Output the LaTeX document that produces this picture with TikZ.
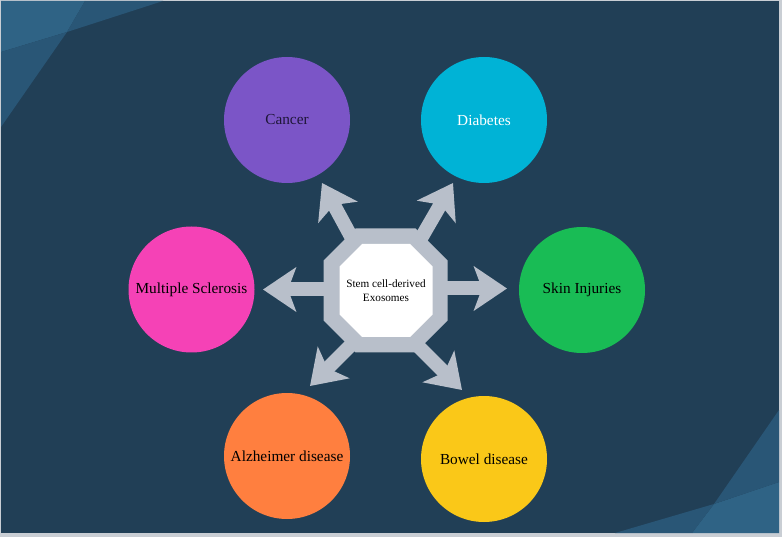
\documentclass[tikz,border=0pt]{standalone}
\usepackage{fontspec}
\setmainfont{Liberation Serif}
\usetikzlibrary{arrows.meta}
\definecolor{framegray}{HTML}{C9CED4}
\definecolor{bg}{HTML}{213F56}
\definecolor{bglight}{HTML}{2F6385}
\definecolor{bgmid}{HTML}{295676}
\definecolor{arrowgray}{HTML}{B8BFCA}
\definecolor{cpurple}{HTML}{7B55C7}
\definecolor{ccyan}{HTML}{00B3D6}
\definecolor{cgreen}{HTML}{19BC55}
\definecolor{cpink}{HTML}{F542B6}
\definecolor{corange}{HTML}{FF7F3F}
\definecolor{cyellow}{HTML}{FAC818}
\definecolor{darktext}{HTML}{1E1638}
\tikzset{
  disease/.style={circle, minimum size=126pt, inner sep=0pt, draw=none,
    font=\fontsize{15.3}{18}\selectfont, text=black},
  bigarrow/.style={draw=arrowgray, line width=14pt,
    -{Stealth[length=33pt, width=44pt, inset=8pt]}},
  corelabel/.style={align=center, font=\fontsize{11.2}{14.3}\selectfont, text=black}
}
\begin{document}
\begin{tikzpicture}[x=1pt,y=-1pt]
\useasboundingbox (0,0) rectangle (782,537);
% frame and background
\fill[framegray] (0,0) rectangle (782,537);
\fill[bg] (1,1) rectangle (779,533);
% top-left facets
\fill[bglight] (1,1) -- (85,1) -- (67,32) -- (1,52) -- cycle;
\fill[bgmid] (85,1) -- (163,1) -- (67,32) -- cycle;
\fill[bgmid] (1,52) -- (67,32) -- (1,127) -- cycle;
% bottom-right facets
\fill[bglight] (714,504) -- (779,482) -- (779,533) -- (692,533) -- cycle;
\fill[bgmid] (779,410) -- (714,504) -- (779,482) -- cycle;
\fill[bgmid] (615,533) -- (714,504) -- (692,533) -- cycle;

% disease circles
\node[disease, fill=cpurple, text=darktext] (cancer) at (287,120) {Cancer};
\node[disease, fill=ccyan, text=white] (diabetes) at (484,120) {Diabetes};
\node[disease, fill=cpink] (ms) at (191.5,289.5) {Multiple Sclerosis};
\node[disease, fill=cgreen] (skin) at (582,290) {Skin Injuries};
\node[disease, fill=corange] (alz) at (287,456) {Alzheimer disease};
\node[disease, fill=cyellow] (bowel) at (484,459) {Bowel disease};

% arrow ends
\coordinate (sUL) at (374.5,279.7);
\coordinate (tUL) at (322,183);
\coordinate (sUR) at (398,278);
\coordinate (tUR) at (453,183);
\coordinate (sL) at (360,289.5);
\coordinate (tL) at (263,289.5);
\coordinate (sR) at (410,288.5);
\coordinate (tR) at (507,288.5);
\coordinate (sLL) at (380.7,315.3);
\coordinate (tLL) at (310,386);
\coordinate (sLR) at (391.3,319.3);
\coordinate (tLR) at (462,390);
\draw[bigarrow] (sUL) -- (tUL);
\draw[bigarrow] (sUR) -- (tUR);
\draw[bigarrow] (sL) -- (tL);
\draw[bigarrow] (sR) -- (tR);
\draw[bigarrow] (sLL) -- (tLL);
\draw[bigarrow] (sLR) -- (tLR);

% octagon
\fill[arrowgray] (355.5,228.5) -- (415.5,228.5) -- (447.5,260.5) -- (447.5,320.5)
  -- (415.5,352.5) -- (355.5,352.5) -- (323.5,320.5) -- (323.5,260.5) -- cycle;
\fill[white] (362,244) -- (410,244) -- (432.5,266.5) -- (432.5,314.5)
  -- (410,337) -- (362,337) -- (339.5,314.5) -- (339.5,266.5) -- cycle;
\node[corelabel] (core) at (386,291) {Stem cell-derived\\Exosomes};
\end{tikzpicture}
\end{document}
